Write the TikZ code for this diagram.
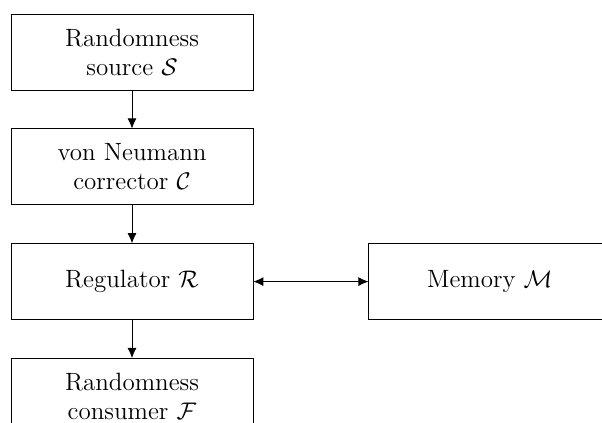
\documentclass[tikz,border=0pt]{standalone}
\usepackage{amsmath,amssymb}
\usepackage{tikz}
\usetikzlibrary{arrows.meta, positioning}

\tikzset{
  block/.style={draw, thin, minimum width=121pt, minimum height=38pt, align=center,
    font=\fontsize{12.5}{14.5}\selectfont},
  tip/.style={Latex[length=5pt,width=4.5pt]},
  flow/.style={-{Latex[length=5pt,width=4.5pt]}, thin},
  dflow/.style={{Latex[length=5pt,width=4.5pt]}-{Latex[length=5pt,width=4.5pt]}, thin}
}

\begin{document}
\begin{tikzpicture}[node distance=19pt]
  \clip (0,0) rectangle (301pt,-211.5pt);
  % main chain
  \node[block] (src) at (66pt,-26pt) {Randomness\\source $\mathcal{S}$};
  \node[block, below=of src] (corr) {von Neumann\\corrector $\mathcal{C}$};
  \node[block, below=of corr] (reg) {Regulator $\mathcal{R}$};
  \node[block, below=of reg] (cons) {Randomness\\consumer $\mathcal{F}$};
  \node[block, right=57.5pt of reg] (mem) {Memory $\mathcal{M}$};
  \draw[flow] (src) -- (corr);
  \draw[flow] (corr) -- (reg);
  \draw[flow] (reg) -- (cons);
  \draw[dflow] (reg) -- (mem);
\end{tikzpicture}
\end{document}
